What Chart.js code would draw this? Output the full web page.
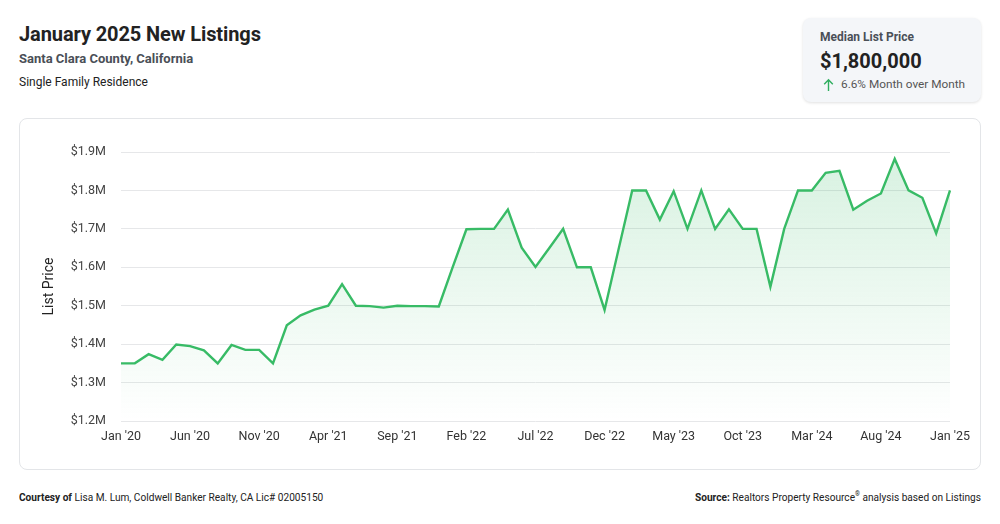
<!DOCTYPE html>
<html>
<head>
<meta charset="utf-8">
<script src="https://cdn.jsdelivr.net/npm/chart.js@4"></script>
<style>
  html, body { margin:0; padding:0; background:#fff; width:1000px; height:524px; overflow:hidden; font-family: Roboto, "Noto Sans", sans-serif; }
  .title { position:absolute; left:19px; top:22px; font-size:20px; font-weight:700; color:#222; letter-spacing:-0.1px; }
  .sub { position:absolute; left:19px; top:51px; font-size:13px; font-weight:700; color:#4a4f57; }
  .sub2 { position:absolute; left:19px; top:75px; font-size:12px; color:#222; }
  .box { position:absolute; left:803px; top:18px; width:178px; height:84px; background:#f4f6f9; border-radius:8px; box-shadow:0 1px 3px rgba(0,0,0,0.12); }
  .box .l1 { position:absolute; left:17px; top:12px; font-size:12px; font-weight:700; color:#4a4f57; }
  .box .l2 { position:absolute; left:17px; top:31px; font-size:20px; font-weight:700; color:#222; }
  .box .l3 { position:absolute; left:38px; top:59px; font-size:11.8px; color:#555; white-space:nowrap; }
  .box svg { position:absolute; left:20px; top:60px; }
  .card { position:absolute; left:19px; top:118px; width:960px; height:350px; border:1px solid #e3e5e8; border-radius:8px; }
  .card canvas { position:absolute; left:0; top:0; }
  .foot { position:absolute; top:490px; font-size:11.5px; color:#222; white-space:nowrap; transform:scaleX(0.88); }
  .foot b { font-weight:700; }
</style>
</head>
<body>
<div class="title">January 2025 New Listings</div>
<div class="sub">Santa Clara County, California</div>
<div class="sub2">Single Family Residence</div>
<div class="box">
  <div class="l1">Median List Price</div>
  <div class="l2">$1,800,000</div>
  <svg width="11" height="14" viewBox="0 0 11 14"><path d="M5.5 13 V2 M1.2 6.2 L5.5 1.8 L9.8 6.2" fill="none" stroke="#2fae5f" stroke-width="1.4"/></svg>
  <div class="l3">6.6% Month over Month</div>
</div>
<div class="card"><canvas id="c" width="960" height="350"></canvas></div>
<div class="foot" style="left:19px; transform-origin:left center;"><b>Courtesy of</b> Lisa M. Lum, Coldwell Banker Realty, CA Lic# 02005150</div>
<div class="foot" style="right:19px; transform-origin:right center;"><b>Source:</b> Realtors Property Resource<sup style="font-size:7px">®</sup> analysis based on Listings</div>
<script>
const months = [
  "Jan '20","Feb '20","Mar '20","Apr '20","May '20","Jun '20","Jul '20","Aug '20","Sep '20","Oct '20","Nov '20","Dec '20",
  "Jan '21","Feb '21","Mar '21","Apr '21","May '21","Jun '21","Jul '21","Aug '21","Sep '21","Oct '21","Nov '21","Dec '21",
  "Jan '22","Feb '22","Mar '22","Apr '22","May '22","Jun '22","Jul '22","Aug '22","Sep '22","Oct '22","Nov '22","Dec '22",
  "Jan '23","Feb '23","Mar '23","Apr '23","May '23","Jun '23","Jul '23","Aug '23","Sep '23","Oct '23","Nov '23","Dec '23",
  "Jan '24","Feb '24","Mar '24","Apr '24","May '24","Jun '24","Jul '24","Aug '24","Sep '24","Oct '24","Nov '24","Dec '24",
  "Jan '25"
];
const listPrice = [
  1350000,1350000,1374000,1359000,1399000,1395000,1384000,1350000,1398000,1385000,1385000,1350000,
  1449000,1475000,1490000,1500000,1556000,1500000,1499000,1495000,1500000,1499000,1499000,1498000,
  1600000,1699000,1700000,1700000,1750000,1651000,1601000,1650000,1700000,1600000,1600000,1489000,
  1645000,1800000,1800000,1724000,1798000,1700000,1800000,1700000,1751000,1700000,1700000,1549000,
  1700000,1800000,1800000,1846000,1851000,1750000,1773000,1792000,1882000,1800000,1781000,1688000,
  1800000
];
const tickEvery = 5;
const yMin = 1200000, yMax = 1900000, yStep = 100000;

const ctx = document.getElementById('c').getContext('2d');
new Chart(ctx, {
  type: 'line',
  data: {
    labels: months,
    datasets: [{
      data: listPrice,
      borderColor: '#38bb66',
      borderWidth: 2.4,
      pointRadius: 0,
      tension: 0,
      fill: 'start',
      backgroundColor: (c) => {
        const a = c.chart.chartArea;
        if (!a) return 'rgba(56,187,102,0.12)';
        const g = c.chart.ctx.createLinearGradient(0, a.top, 0, a.bottom);
        g.addColorStop(0, 'rgba(56,187,102,0.20)');
        g.addColorStop(1, 'rgba(56,187,102,0.0)');
        return g;
      }
    }]
  },
  options: {
    responsive: false,
    animation: false,
    layout: { padding: { top: 33, right: 30, left: 0, bottom: 0 } },
    plugins: { legend: { display: false }, tooltip: { enabled: false } },
    scales: {
      x: {
        offset: false,
        grid: { display: false, drawTicks: false },
        border: { display: false },
        ticks: {
          autoSkip: false, maxRotation: 0, padding: 8,
          color: '#333', font: { family: 'Roboto', size: 12.5 },
          callback: function(v, i) { return i % tickEvery === 0 ? this.getLabelForValue(v) : null; }
        },
        afterFit: (s) => { s.height = 48; }
      },
      y: {
        min: yMin, max: yMax,
        grid: { color: '#e6e7e9', drawTicks: false, lineWidth: 1 },
        border: { display: false },
        ticks: {
          stepSize: yStep, padding: 15, color: '#444',
          font: { family: 'Roboto', size: 12.5 },
          callback: (v) => '$' + (v / 1000000).toFixed(1) + 'M'
        },
        title: { display: true, text: 'List Price', color: '#222', font: { family: 'Roboto', size: 14 }, padding: { top: 21, bottom: 0 } },
        afterFit: (s) => { s.width = 101; }
      }
    }
  }
});
</script>
</body>
</html>
